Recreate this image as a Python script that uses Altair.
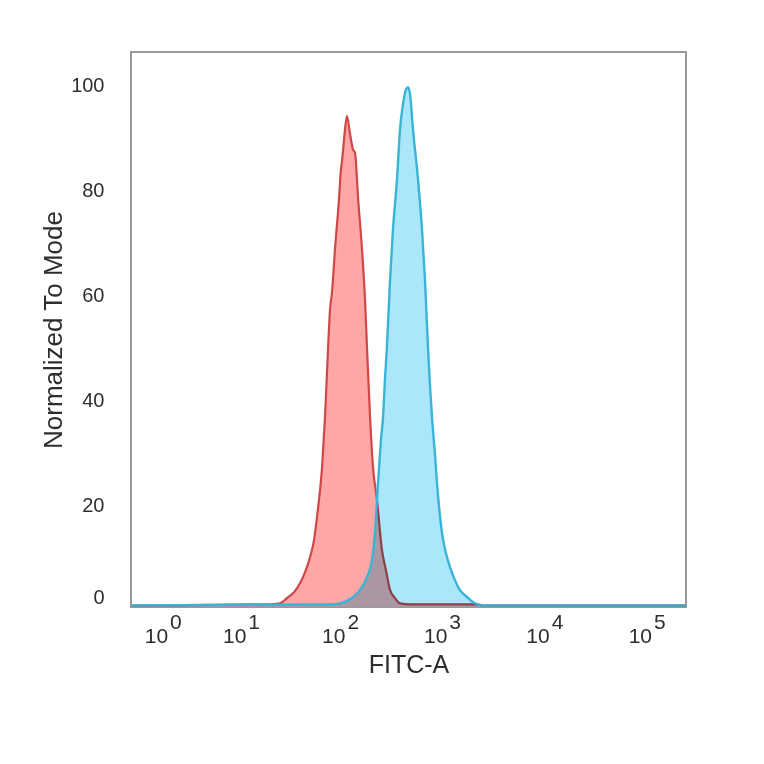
import altair as alt
import pandas as pd

# Isotype control (red) histogram: FITC-A intensity vs % of mode
red_x = [0, 18, 23.9, 28.1, 33.1, 38, 42.6, 47.9, 52.4, 56.1,
         63, 67.4, 72.1, 75.5, 79, 84.5, 92.6, 96.8, 99.1, 103.8,
         111, 119, 127, 133, 143, 156, 167, 175, 187, 200,
         219, 245, 268, 294, 329, 368, 461, 2085, 2331, 230000]
red_y = [1.1, 1.3, 1.5, 2.5, 3.6, 5.3, 7.4, 10.3, 13.5, 17.9,
         27.4, 37.0, 49.7, 57.3, 60.6, 68.8, 78.3, 84.0, 85.5, 89.7,
         94.1, 90.7, 87.8, 87.2, 78.3, 68.8, 59.2, 49.7, 37.0, 27.4,
         21.1, 11.6, 7.8, 4.0, 2.5, 1.5, 1.3, 1.3, 1.1, 1.1]

# Stained sample (blue) histogram
blue_x = [0, 70.5, 94.8, 127, 149, 175, 195.5, 209, 224, 239.5,
          251, 262, 274, 294, 314, 344, 368, 394, 421.5, 441,
          461, 493, 552, 604, 646, 691, 723, 756, 810, 847,
          948, 1037, 1135, 1271, 1422, 1664, 1906, 2386, 230000]
blue_y = [1.1, 1.3, 1.5, 2.7, 4.0, 6.5, 9.7, 14.9, 24.4, 32.6,
          37.0, 44.0, 50.3, 63.0, 72.6, 82.1, 91.6, 96.4, 99.2, 99.6,
          98.3, 91.6, 82.1, 72.6, 63.0, 50.3, 43.0, 37.0, 29.7, 24.4,
          14.9, 11.0, 8.4, 5.9, 4.0, 2.7, 1.7, 1.1, 1.1]

# Axis tick labels
tick_values = [1, 10, 100, 1000, 10000, 100000]
tick_base = ["10"] * 6
tick_exp = ["0", "1", "2", "3", "4", "5"]
y_tick_values = [2.7, 20, 40, 60, 80, 100]
y_floor = 0.8

FONT = "Liberation Sans"
TXT = "#2e2e2e"

red_df = pd.DataFrame({"v": red_x, "pct": red_y})
blue_df = pd.DataFrame({"v": blue_x, "pct": blue_y})
tick_df = pd.DataFrame({"v": tick_values, "base": tick_base, "exp": tick_exp})

xscale = alt.Scale(type="symlog", constant=0.867, domain=[0, 230000], nice=False)
yscale = alt.Scale(domain=[y_floor, 106.3], nice=False, zero=False)

xaxis = alt.Axis(labels=False, ticks=False, domain=False, grid=False,
                 title="FITC-A", titleFont=FONT, titleFontSize=25,
                 titleFontWeight="normal", titleColor=TXT, titlePadding=45)
yaxis = alt.Axis(values=y_tick_values,
                 labelExpr="datum.value < 10 ? '0' : datum.label",
                 ticks=False, tickSize=0, domain=False, grid=False,
                 labelPadding=27, labelFont=FONT, labelFontSize=20, labelColor=TXT,
                 title="Normalized To Mode", titleFont=FONT, titleFontSize=26,
                 titleFontWeight="normal", titleColor=TXT, titlePadding=4)


def area(df, color, first=False, blend=None):
    kw = dict(color=color, interpolate="monotone")
    if blend:
        kw["blend"] = blend
    if first:
        xe = alt.X("v:Q", scale=xscale, axis=xaxis)
        ye = alt.Y("pct:Q", scale=yscale, axis=yaxis, stack=None)
    else:
        xe = alt.X("v:Q", scale=xscale)
        ye = alt.Y("pct:Q", scale=yscale, stack=None)
    return alt.Chart(df).mark_area(**kw).encode(x=xe, y=ye, y2=alt.datum(y_floor))


def line(df, color, width):
    return alt.Chart(df).mark_line(color=color, strokeWidth=width,
                                   interpolate="monotone").encode(
        x=alt.X("v:Q", scale=xscale), y=alt.Y("pct:Q", scale=yscale),
        order=alt.Order("v:Q"))


red_area = area(red_df, "#ffa6a6", first=True)
red_line = line(red_df, "#cf4848", 2.2)
blue_area = area(blue_df, "#abe7fa", blend="multiply")
blue_line = line(blue_df, "#3ab4d6", 2.4)

base_txt = alt.Chart(tick_df).mark_text(align="right", baseline="middle", dx=3,
                                        font=FONT, fontSize=21, color=TXT).encode(
    x=alt.X("v:Q", scale=xscale), y=alt.value(585), text="base:N")
exp_txt = alt.Chart(tick_df).mark_text(align="left", baseline="middle", dx=5,
                                       font=FONT, fontSize=21, color=TXT).encode(
    x=alt.X("v:Q", scale=xscale), y=alt.value(571), text="exp:N")

chart = alt.layer(red_area, red_line, blue_area, blue_line, base_txt, exp_txt).properties(
    width=555, height=555,
    autosize=alt.AutoSizeParams(type="none"),
    padding={"left": 123, "top": 44, "right": 70, "bottom": 149},
    background="white",
).configure_view(stroke="#999999", strokeWidth=2)

chart.save("out.html", embed_options={"renderer": "svg", "actions": False})
